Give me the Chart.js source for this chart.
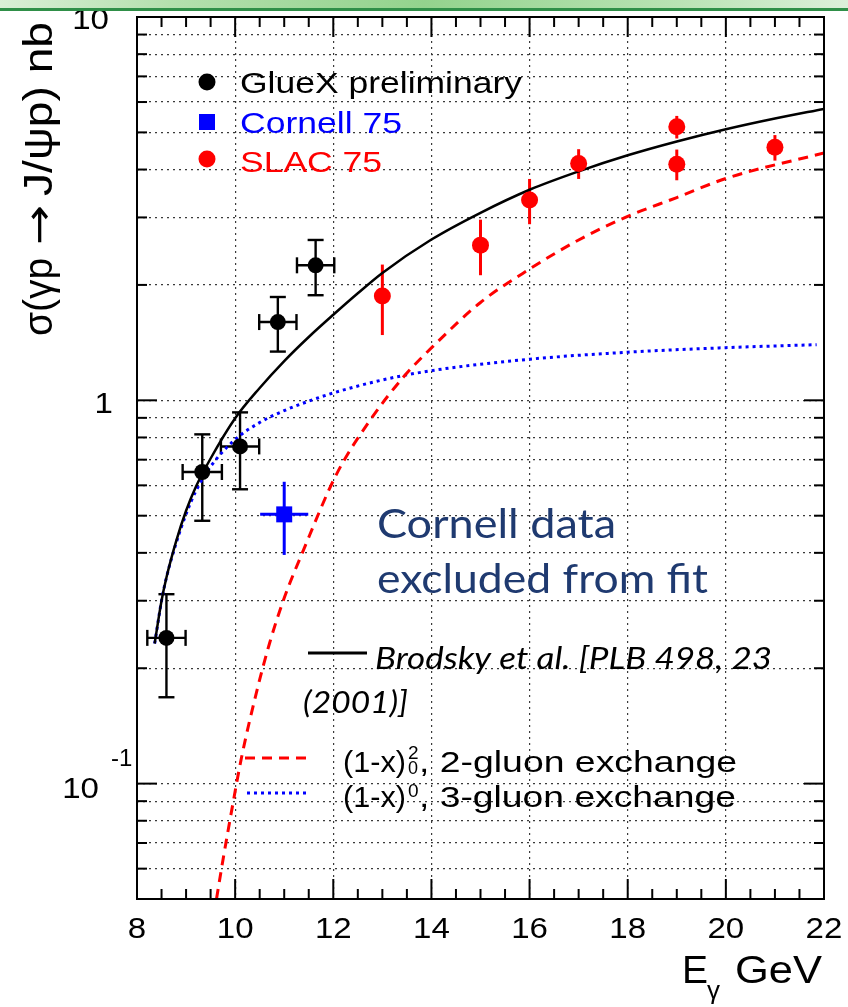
<!DOCTYPE html>
<html>
<head>
<meta charset="utf-8">
<script src="https://cdn.jsdelivr.net/npm/chart.js@4.4.1/dist/chart.umd.min.js"></script>
<style>
  html, body { margin: 0; padding: 0; background: #fff; }
  #wrap { position: relative; width: 848px; height: 1007px; overflow: hidden; }
  #plot { position: absolute; left: 0; top: 0; }
  #band {
    position: absolute; left: 0; top: 0; width: 848px; height: 8px;
    background: linear-gradient(90deg, #d9efd6 0%, #b4e0ae 20%, #93d38d 50%, #b9e3b4 80%, #dcf0da 100%);
    border-bottom: 3px solid #2f8f48;
  }
</style>
</head>
<body>
<div id="wrap">
  <canvas id="plot" width="848" height="1007"></canvas>
  <div id="band"></div>
</div>
<script>
// ---- measurements ----------------------------------------------------------
// GlueX preliminary: photon energy (GeV), cross section (nb), errors
const gluexE        = [8.60, 9.33, 10.10, 10.87, 11.64];
const gluexSigma    = [0.240, 0.650, 0.758, 1.60, 2.25];
const gluexSigmaErr = [0.072, 0.165, 0.172, 0.26, 0.37];
const gluexEErr     = [0.39, 0.40, 0.39, 0.38, 0.38];

// Cornell 75
const cornellE        = [11.0];
const cornellSigma    = [0.504];
const cornellSigmaErr = [0.109];
const cornellEErr     = [0.49];

// SLAC 75
const slacE        = [13, 15, 16, 17, 19, 19, 21];
const slacSigma    = [1.87, 2.54, 3.33, 4.15, 5.17, 4.13, 4.57];
const slacSigmaErr = [0.39, 0.42, 0.45, 0.37, 0.35, 0.38, 0.35];

// ---- model curves (Brodsky et al.) ------------------------------------------
const fitE     = [8.36, 8.50, 8.60, 8.80, 9.00, 9.20, 9.50, 10.00, 10.50, 11.00, 11.50, 12.00, 12.50, 13.00, 14.00, 15.00, 16.00, 17.00, 18.00, 19.00, 20.00, 21.00, 22.00];
const fitSigma = [0.232, 0.300, 0.345, 0.430, 0.515, 0.595, 0.705, 0.898, 1.077, 1.266, 1.463, 1.672, 1.902, 2.149, 2.627, 3.085, 3.543, 3.957, 4.358, 4.735, 5.097, 5.437, 5.759];

const twoGluonE     = [9.62, 9.75, 9.95, 10.13, 10.43, 10.70, 10.98, 11.39, 12.07, 12.75, 13.43, 14.10, 15.00, 16.00, 17.00, 18.00, 19.00, 20.00, 22.00];
const twoGluonSigma = [0.050, 0.063, 0.088, 0.117, 0.172, 0.232, 0.300, 0.406, 0.643, 0.887, 1.150, 1.410, 1.800, 2.200, 2.620, 3.020, 3.380, 3.790, 4.420];

const threeGluonE     = [8.36, 8.50, 8.60, 8.80, 9.00, 9.20, 9.50, 10.00, 10.50, 11.00, 11.50, 12.00, 13.00, 14.00, 16.00, 18.00, 20.00, 21.85];
const threeGluonSigma = [0.232, 0.300, 0.345, 0.425, 0.505, 0.580, 0.672, 0.790, 0.875, 0.940, 0.995, 1.045, 1.130, 1.195, 1.280, 1.335, 1.372, 1.397];

// ---- axes -------------------------------------------------------------------
const xRange      = [8, 22];
const xTickValues = [8, 10, 12, 14, 16, 18, 20, 22];
const xTickLabels = ['8', '10', '12', '14', '16', '18', '20', '22'];
const xMinorStep  = 0.5;

const yRange      = [0.05, 10];
const yGridValues = [0.05, 0.06, 0.07, 0.08, 0.09, 0.1, 0.2, 0.3, 0.4, 0.5, 0.6, 0.7, 0.8, 0.9,
                     1, 2, 3, 4, 5, 6, 7, 8, 9, 10];
const yDecades    = [0.1, 1, 10];

const legendEntries = ['GlueX preliminary', 'Cornell 75', 'SLAC 75'];

// ---- drawing helpers ----------------------------------------------------------
const SANS = '"Liberation Sans", Arial, Helvetica, sans-serif';
const NOTE = 'Lato, "Open Sans", sans-serif';

// Draws a string, optionally squeezed/stretched horizontally to a given width.
function text(ctx, str, x, y, o) {
  const size = o.size || 29, family = o.family || SANS, style = o.style || '';
  ctx.save();
  ctx.font = `${style} ${size}px ${family}`;
  ctx.fillStyle = o.color || '#000';
  ctx.textAlign = 'left';
  ctx.textBaseline = 'alphabetic';
  const w = ctx.measureText(str).width;
  const k = o.width ? o.width / w : (o.sx || 1);
  const total = w * k;
  let x0 = x;
  if (o.align === 'center') x0 = x - total / 2;
  else if (o.align === 'right') x0 = x - total;
  ctx.translate(x0, y);
  ctx.scale(k, 1);
  ctx.fillText(str, 0, 0);
  ctx.restore();
  return x0 + total;
}

function seg(ctx, x1, y1, x2, y2) {
  ctx.beginPath(); ctx.moveTo(x1, y1); ctx.lineTo(x2, y2); ctx.stroke();
}

const toXY = (xs, ys) => xs.map((v, i) => ({ x: v, y: ys[i] }));

// Error bars for the measured points (drawn below the markers)
const errorBars = {
  id: 'errorBars',
  beforeDatasetsDraw(chart) {
    const { ctx, scales: { x, y } } = chart;
    ctx.save();
    ctx.lineCap = 'butt';
    // GlueX: both directions, with end caps
    ctx.strokeStyle = '#000'; ctx.lineWidth = 2.4;
    gluexE.forEach((e, i) => {
      const px = x.getPixelForValue(e), py = y.getPixelForValue(gluexSigma[i]);
      const top = y.getPixelForValue(gluexSigma[i] + gluexSigmaErr[i]);
      const bot = y.getPixelForValue(gluexSigma[i] - gluexSigmaErr[i]);
      const l = x.getPixelForValue(e - gluexEErr[i]), r = x.getPixelForValue(e + gluexEErr[i]);
      seg(ctx, px, top, px, bot); seg(ctx, px - 8, top, px + 8, top); seg(ctx, px - 8, bot, px + 8, bot);
      seg(ctx, l, py, r, py); seg(ctx, l, py - 8, l, py + 8); seg(ctx, r, py - 8, r, py + 8);
    });
    // Cornell: plain cross
    ctx.strokeStyle = '#0000ff'; ctx.lineWidth = 3;
    cornellE.forEach((e, i) => {
      const px = x.getPixelForValue(e), py = y.getPixelForValue(cornellSigma[i]);
      seg(ctx, px, y.getPixelForValue(cornellSigma[i] + cornellSigmaErr[i]), px, y.getPixelForValue(cornellSigma[i] - cornellSigmaErr[i]));
      seg(ctx, x.getPixelForValue(e - cornellEErr[i]), py, x.getPixelForValue(e + cornellEErr[i]), py);
    });
    // SLAC: vertical only
    ctx.strokeStyle = '#ff0000'; ctx.lineWidth = 3;
    slacE.forEach((e, i) => {
      const px = x.getPixelForValue(e);
      seg(ctx, px, y.getPixelForValue(slacSigma[i] + slacSigmaErr[i]), px, y.getPixelForValue(slacSigma[i] - slacSigmaErr[i]));
    });
    ctx.restore();
  }
};

// One piece of the rotated y title, laid along the axis from yStart upwards over `len` px.
function vText(ctx, str, baseX, yStart, len, family, size) {
  ctx.save();
  ctx.translate(baseX, yStart);
  ctx.rotate(-Math.PI / 2);
  ctx.font = `${size}px ${family}`;
  ctx.fillStyle = '#000';
  ctx.textAlign = 'left';
  ctx.textBaseline = 'alphabetic';
  const w = ctx.measureText(str).width;
  ctx.scale(len / w, 1.15);
  ctx.fillText(str, 0, 0);
  ctx.restore();
}

// Frame, inward ticks, axis labels, legends and notes
const decorations = {
  id: 'decorations',
  afterDraw(chart) {
    const { ctx, chartArea: a, scales: { x, y } } = chart;
    ctx.save();
    ctx.strokeStyle = '#000';
    ctx.lineWidth = 2;
    ctx.strokeRect(a.left, a.top, a.right - a.left, a.bottom - a.top);

    for (let v = xRange[0]; v <= xRange[1] + 1e-9; v += xMinorStep) {
      const px = x.getPixelForValue(v);
      const len = xTickValues.includes(v) ? 20 : 10;
      seg(ctx, px, a.bottom, px, a.bottom - len);
      seg(ctx, px, a.top, px, a.top + len);
    }
    yGridValues.forEach(v => {
      const py = y.getPixelForValue(v);
      const len = yDecades.includes(v) ? 20 : 10;
      seg(ctx, a.left, py, a.left + len, py);
      seg(ctx, a.right, py, a.right - len, py);
    });

    // x tick labels
    xTickValues.forEach((v, i) => {
      text(ctx, xTickLabels[i], x.getPixelForValue(v), 938, { size: 29, sx: 1.14, align: 'center' });
    });
    // y tick labels
    text(ctx, '10', 109, y.getPixelForValue(10) + 12, { size: 29, sx: 1.14, align: 'right' });
    text(ctx, '1', 113, y.getPixelForValue(1) + 13, { size: 29, sx: 1.14, align: 'right' });
    text(ctx, '10', 99, y.getPixelForValue(0.1) + 14, { size: 29, sx: 1.14, align: 'right' });
    text(ctx, '-1', 111, y.getPixelForValue(0.1) - 18, { size: 24 });

    // y title, in three runs so the arrow keeps its length and spacing
    vText(ctx, 'σ(γp', 52, 336, 78, SANS, 36);
    vText(ctx, '→', 52, 245, 40, '"DejaVu Sans", sans-serif', 34);
    vText(ctx, 'J/ψp) nb', 52, 196, 174, SANS, 36);

    // x title
    text(ctx, 'E', 682, 983, { size: 39, width: 26 });
    text(ctx, 'γ', 707, 999, { size: 26 });
    text(ctx, 'GeV', 735, 983, { size: 39, width: 87 });

    // data legend
    ctx.fillStyle = '#000';
    ctx.beginPath(); ctx.arc(207, 82, 8.5, 0, 2 * Math.PI); ctx.fill();
    ctx.fillStyle = '#0000ff';
    ctx.fillRect(199, 114, 16, 16);
    ctx.fillStyle = '#ff0000';
    ctx.beginPath(); ctx.arc(207, 159, 8.5, 0, 2 * Math.PI); ctx.fill();
    text(ctx, legendEntries[0], 240, 93, { size: 30, width: 282 });
    text(ctx, legendEntries[1], 240, 132.5, { size: 30, width: 162, color: '#0000ff' });
    text(ctx, legendEntries[2], 240, 171.5, { size: 30, width: 142, color: '#ff0000' });

    // note on the Cornell point
    text(ctx, 'Cornell data', 377, 538, { family: NOTE, size: 40, width: 239, color: '#1f3a70' });
    text(ctx, 'excluded from fit', 377, 593, { family: NOTE, size: 40, width: 331, color: '#1f3a70' });

    // model legend
    ctx.lineWidth = 3;
    ctx.strokeStyle = '#000';
    seg(ctx, 308, 653, 367, 653);
    text(ctx, 'Brodsky et al. [PLB 498, 23', 375, 669, { family: NOTE, style: 'italic', size: 31, width: 397 });
    text(ctx, '(2001)]', 303, 713, { family: NOTE, style: 'italic', size: 31, width: 105 });

    ctx.strokeStyle = '#ff0000';
    ctx.setLineDash([10, 7]);
    seg(ctx, 245, 758, 310, 758);
    ctx.strokeStyle = '#0000ff';
    ctx.setLineDash([3, 4]);
    seg(ctx, 247, 793, 310, 793);
    ctx.setLineDash([]);

    text(ctx, '(1-x)', 343, 772, { size: 30, width: 63 });
    text(ctx, '2', 408, 759, { size: 19 });
    text(ctx, '0', 408, 774, { size: 18 });
    text(ctx, ', 2-gluon exchange', 419, 772, { size: 30, width: 318 });
    text(ctx, '(1-x)', 343, 807, { size: 30, width: 63 });
    text(ctx, '0', 408, 797, { size: 19 });
    text(ctx, ', 3-gluon exchange', 419, 807, { size: 30, width: 317 });

    ctx.restore();
  }
};

const gridStyle = { color: '#3a3a3a', lineWidth: 1.2, drawTicks: false };

new Chart(document.getElementById('plot'), {
  type: 'scatter',
  data: {
    datasets: [
      { label: legendEntries[0], data: toXY(gluexE, gluexSigma), order: 0,
        pointStyle: 'circle', pointRadius: 8, backgroundColor: '#000', borderWidth: 0, showLine: false },
      { label: legendEntries[1], data: toXY(cornellE, cornellSigma), order: 1,
        pointStyle: 'rect', pointRadius: 11.3, backgroundColor: '#0000ff', borderWidth: 0, showLine: false },
      { label: legendEntries[2], data: toXY(slacE, slacSigma), order: 2,
        pointStyle: 'circle', pointRadius: 8.5, backgroundColor: '#ff0000', borderWidth: 0, showLine: false },
      { label: 'Brodsky et al.', data: toXY(fitE, fitSigma), order: 5, showLine: true,
        borderColor: '#000', borderWidth: 2.5, pointRadius: 0, cubicInterpolationMode: 'monotone' },
      { label: '2-gluon exchange', data: toXY(twoGluonE, twoGluonSigma), order: 6, showLine: true,
        borderColor: '#ff0000', borderWidth: 3, borderDash: [10, 7], pointRadius: 0, cubicInterpolationMode: 'monotone' },
      { label: '3-gluon exchange', data: toXY(threeGluonE, threeGluonSigma), order: 7, showLine: true,
        borderColor: '#0000ff', borderWidth: 3, borderDash: [3, 4], pointRadius: 0, cubicInterpolationMode: 'monotone' }
    ]
  },
  options: {
    responsive: false,
    animation: false,
    devicePixelRatio: 1,
    layout: { padding: { left: 137, right: 24, top: 17, bottom: 108 } },
    plugins: { legend: { display: false }, tooltip: { enabled: false } },
    scales: {
      x: {
        type: 'linear', min: xRange[0], max: xRange[1],
        ticks: { display: false },
        afterBuildTicks: s => { s.ticks = xTickValues.map(v => ({ value: v })); },
        grid: gridStyle,
        border: { display: false, dash: [2, 4] }
      },
      y: {
        type: 'logarithmic', min: yRange[0], max: yRange[1],
        ticks: { display: false },
        afterBuildTicks: s => { s.ticks = yGridValues.map(v => ({ value: v })); },
        grid: gridStyle,
        border: { display: false, dash: [2, 4] }
      }
    }
  },
  plugins: [errorBars, decorations]
});
</script>
</body>
</html>
